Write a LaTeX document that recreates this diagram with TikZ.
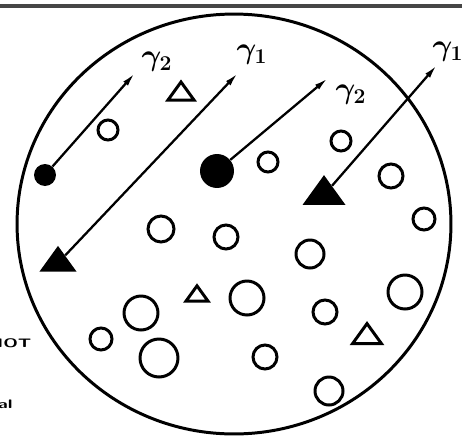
\documentclass[tikz,border=0pt]{standalone}
\usetikzlibrary{arrows.meta,shapes.geometric}

\begin{document}
\begin{tikzpicture}[x=0.02cm, y=-0.02cm,
  dot/.style={circle, fill=black, inner sep=0pt, minimum size=#1*0.04cm},
  ring/.style={circle, draw, line width=1.7pt, inner sep=0pt, minimum size=#1*0.04cm},
  tri/.style={regular polygon, regular polygon sides=3, inner sep=0pt,
              minimum size=#1*0.0231cm, yscale=0.8, transform shape},
  ftri/.style={tri=#1, fill=black},
  otri/.style={tri=#1, draw, line width=1.7pt},
  arr/.style={-{Latex[length=8pt,width=3.5pt]}, line width=1.3pt},
  lbl/.style={font=\LARGE\boldmath, inner sep=0pt},
  side/.style={font=\sffamily\bfseries\scriptsize, inner sep=0pt, xscale=1.5, transform shape},
]
\useasboundingbox (0,0) rectangle (462,436);
% top rule
\draw[line width=2pt, gray!55!black] (0,6) -- (462,6);
% the disk
\node[draw, ellipse, line width=1.7pt, inner sep=0pt,
      minimum width=8.68cm, minimum height=8.4cm] (disk) at (234,224) {};
% open circles
\foreach \x/\y/\r [count=\i] in {108/130/10, 341/141/10, 268/162/10, 391/176/12,
    424/219/11, 161/229/13, 226/237/12, 310/254/14, 247/298/17, 141/313/17,
    405/292/17, 101/339/11, 159/358/19, 325/312/12, 265/357/12, 329/391/14}
  \node[ring=\r] (c\i) at (\x,\y) {};
% open triangles
\node[otri=26] (o1) at (181,94)  {};
\node[otri=22] (o2) at (197,296) {};
\node[otri=29] (o3) at (367,337) {};
% filled particles
\node[dot=11]  (d1) at (45,175)   {};
\node[dot=17]  (d2) at (217,171)  {};
\node[ftri=37] (tA) at (58,263)   {};
\node[ftri=43] (tB) at (324,195)  {};
% arrow ends
\coordinate (e1) at (135,73);
\coordinate (e2) at (238,73);
\coordinate (e3) at (328,78);
\coordinate (e4) at (437,65);
\draw[arr] (d1) -- (e1);
\draw[arr] (tA) -- (e2);
\draw[arr] (d2) -- (e3);
\draw[arr] (tB) -- (e4);
% labels
\node[lbl] (l1) at (157,62) {$\gamma_2$};
\node[lbl] (l2) at (252,55) {$\gamma_1$};
\node[lbl] (l3) at (351,95) {$\gamma_2$};
\node[lbl] (l4) at (448,52) {$\gamma_1$};
% cut-off margin text
\node[side, anchor=east] (m1) at (32,343) {HOT};
\node[side, anchor=east] (m2) at (13,404) {al};
\end{tikzpicture}
\end{document}
